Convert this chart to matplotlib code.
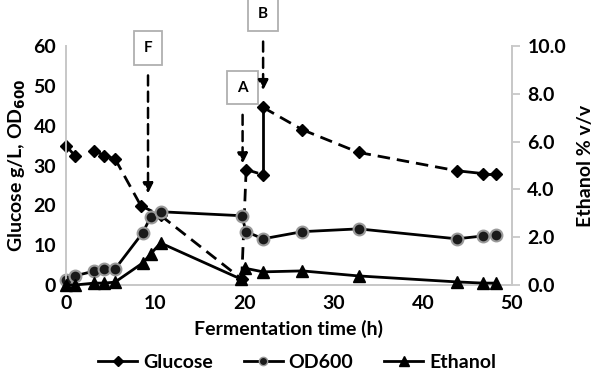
import matplotlib.pyplot as plt

plt.rcParams['font.family'] = ['Lato', 'DejaVu Sans']
plt.rcParams['font.weight'] = 'bold'

# data
glc_t = [0, 1, 3.2, 4.3, 5.5, 8.4, 10.6, 19.7, 20.2, 22.1, 22.1, 26.5, 32.8, 43.8, 46.7, 48.2]
glc = [35, 32.5, 33.7, 32.5, 31.7, 19.9, 17.5, 1.5, 29, 27.7, 44.6, 39, 33.3, 28.7, 28, 28]
glc_ls = ['-', 'none', '-', '-', '--', '--', '--', '--', '--', '-', '--', '--', '--', '-', '-']

od_t = [0, 1, 3.2, 4.3, 5.5, 8.6, 9.5, 10.6, 19.7, 20.2, 22.1, 26.5, 32.8, 43.8, 46.7, 48.2]
od = [1.3, 2.3, 3.5, 4.0, 4.0, 13.1, 17.1, 18.4, 17.4, 13.4, 11.6, 13.4, 14.1, 11.6, 12.3, 12.6]

eth_t = [0, 1, 3.2, 4.3, 5.5, 8.6, 9.5, 10.6, 19.6, 20.1, 22.1, 26.5, 32.8, 43.8, 46.7, 48.2]
eth = [0.0, 0.0, 0.08, 0.08, 0.12, 0.92, 1.3, 1.76, 0.25, 0.7, 0.55, 0.59, 0.38, 0.13, 0.08, 0.08]

feeds = ['F', 'A', 'B']
feed_t = [9.2, 19.8, 22.1]
feed_tip = [23.0, 30.5, 48.9]
feed_box = [59.5, 49.6, 68.0]

fig = plt.figure(figsize=(5.94, 3.75), dpi=100)
ax = fig.add_axes([0.111, 0.24, 0.751, 0.637])
ax2 = ax.twinx()

# glucose: markers + segment styles
for i in range(len(glc_t) - 1):
    if glc_ls[i] == 'none':
        continue
    ax.plot(glc_t[i:i + 2], glc[i:i + 2], color='black', lw=2,
            ls=glc_ls[i], dashes=(4.5, 2.5) if glc_ls[i] == '--' else (None, None), zorder=2)
ax.plot(glc_t, glc, ls='none', marker='D', ms=6, color='black', zorder=3, clip_on=False)
ax.plot(od_t, od, color='black', lw=2, marker='o', ms=8.5, mfc='#1a1a1a',
        mec='#9a9a9a', mew=1.5, zorder=3, clip_on=False)
ax2.plot(eth_t, eth, color='black', lw=2, marker='^', ms=9, zorder=3, clip_on=False)

# legend proxies
h1, = ax.plot([], [], color='black', lw=2, marker='D', ms=5, label='Glucose')
h2, = ax.plot([], [], color='black', lw=2, marker='o', ms=6, mfc='#1a1a1a',
              mec='#9a9a9a', label='OD600')
h3, = ax.plot([], [], color='black', lw=2, marker='^', ms=7, label='Ethanol')
fig.legend(handles=[h1, h2, h3], loc='lower center', ncol=3, frameon=False,
           fontsize=14, bbox_to_anchor=(0.5, -0.035), handlelength=2.0,
           columnspacing=1.6, handletextpad=0.3)

for lab, t, tip, yb in zip(feeds, feed_t, feed_tip, feed_box):
    ax.annotate(lab, xy=(t, tip), xytext=(t, yb), ha='center', va='center',
                fontsize=11, fontweight='bold', annotation_clip=False,
                bbox=dict(boxstyle='square,pad=0.65', fc='white', ec='#b0b0b0', lw=1.3),
                arrowprops=dict(arrowstyle='-|>', color='black', lw=1.8,
                                ls=(0, (4, 2.5)), mutation_scale=15, shrinkA=7, shrinkB=0))

ax.set_xlim(0, 50)
ax.set_ylim(0, 60)
ax2.set_ylim(0, 10)
ax.set_xticks([0, 10, 20, 30, 40, 50])
ax.set_yticks([0, 10, 20, 30, 40, 50, 60])
ax2.set_yticks([0, 2, 4, 6, 8, 10])
ax2.set_yticklabels(['0.0', '2.0', '4.0', '6.0', '8.0', '10.0'])

for a in (ax, ax2):
    for s in a.spines.values():
        s.set_color('#c8c8c8')
        s.set_linewidth(1.3)
    a.spines['top'].set_visible(False)
    a.tick_params(labelsize=14, colors='#c8c8c8', labelcolor='black')
ax.tick_params(axis='both', length=0, pad=7)
ax2.tick_params(axis='y', length=6, width=1.3, pad=5)
for lbl in ax.get_xticklabels() + ax.get_yticklabels() + ax2.get_yticklabels():
    lbl.set_fontweight('bold')

ax.set_xlabel('Fermentation time (h)', fontsize=14, fontweight='bold', labelpad=6)
ax.set_ylabel('Glucose g/L, OD$_{\\mathbf{600}}$', fontsize=14, fontweight='bold', labelpad=4)
ax2.set_ylabel('Ethanol % v/v', fontsize=14, fontweight='bold', labelpad=8)

fig.savefig('out.png', dpi=100)
